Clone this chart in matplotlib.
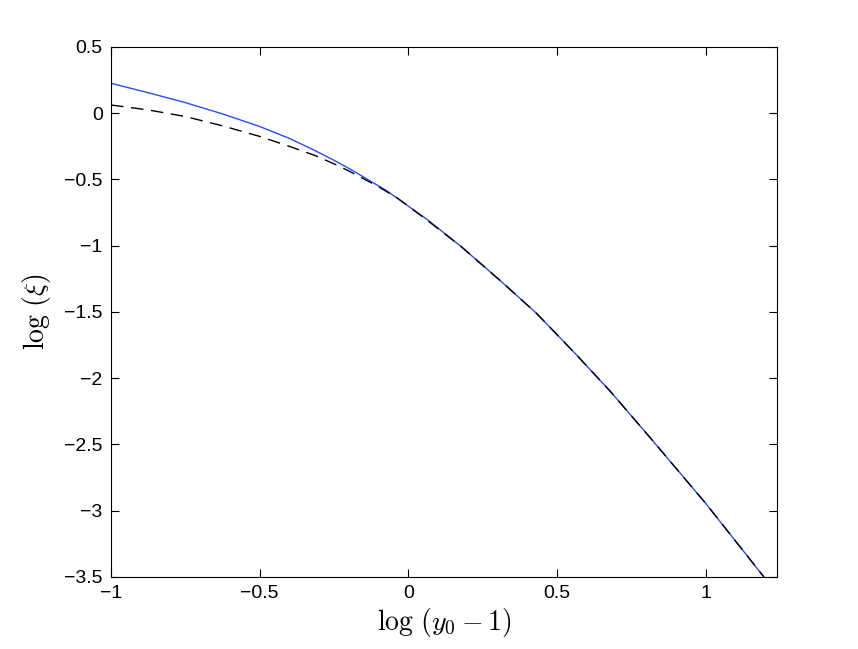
import matplotlib
matplotlib.use('Agg')
import matplotlib.pyplot as plt

plt.rcParams['font.family'] = ['Liberation Sans', 'DejaVu Sans']
plt.rcParams['mathtext.fontset'] = 'cm'

# values
x_blue = [-1.0, -0.875, -0.75, -0.625, -0.5, -0.4, -0.32, -0.25, -0.185, -0.071, 0.064,
          0.178, 0.313, 0.431, 0.566, 0.68, 0.815, 1.0, 1.196]
y_blue = [0.226, 0.155, 0.08, -0.005, -0.10, -0.19, -0.275, -0.355, -0.435, -0.588, -0.803,
          -1.007, -1.271, -1.510, -1.825, -2.101, -2.453, -2.944, -3.5]

x_dash = [-1.0, -0.875, -0.75, -0.625, -0.5, -0.4, -0.313, -0.242, -0.192, -0.1,
          -0.037, 0.053, 0.178, 0.313, 0.431, 0.566, 0.68, 0.815, 1.0, 1.196]
y_dash = [0.062, 0.025, -0.025, -0.095, -0.175, -0.25, -0.32, -0.39, -0.445, -0.555,
          -0.64, -0.79, -1.007, -1.271, -1.510, -1.825, -2.101, -2.453, -2.944, -3.5]

xticks = [-1, -0.5, 0, 0.5, 1]
yticks = [-3.5, -3, -2.5, -2, -1.5, -1, -0.5, 0, 0.5]

def fmt(t):
    return ('%g' % t).replace('-', '\u2212')

fig = plt.figure(figsize=(8.58, 6.49), dpi=100)
ax = fig.add_axes([0.1294, 0.111, 0.7762, 0.8166])

ax.plot(x_blue, y_blue, color='#2b4cf5', lw=1.0)
ax.plot(x_dash, y_dash, color='black', lw=1.0, ls=(0, (9, 5.5)))

ax.set_xlim(-1, 1.24)
ax.set_ylim(-3.5, 0.5)
ax.set_xticks(xticks)
ax.set_xticklabels([fmt(t) for t in xticks])
ax.set_yticks(yticks)
ax.set_yticklabels([fmt(t) for t in yticks])
ax.tick_params(direction='in', length=6, width=0.8, top=True, right=True,
               labelsize=14, pad=6)
for s in ax.spines.values():
    s.set_linewidth(0.8)

ax.set_xlabel(r'$\log\,(y_0-1)$', fontsize=20, labelpad=3)
ax.set_ylabel(r'$\log\,(\xi)$', fontsize=20, labelpad=8)

fig.savefig('out.png', dpi=100)
